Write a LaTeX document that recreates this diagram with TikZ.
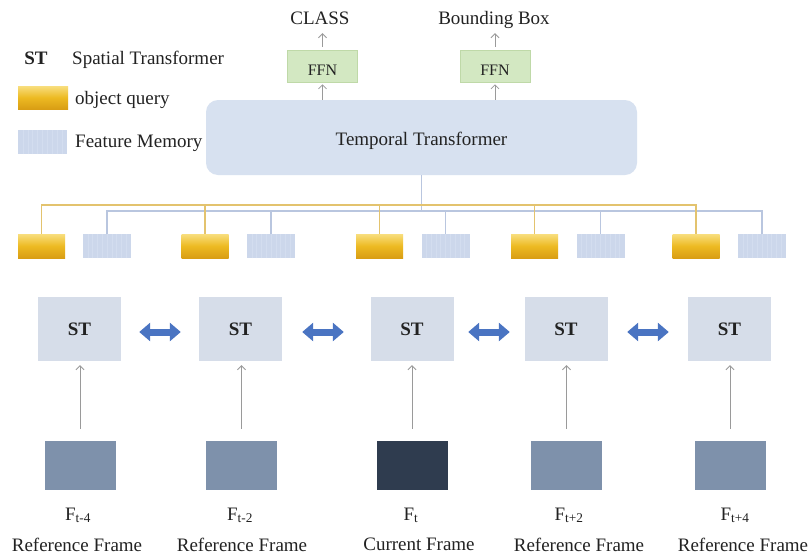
\documentclass[tikz,border=0pt]{standalone}
\usepackage{fontspec}
\setmainfont{Liberation Serif}
\usetikzlibrary{arrows.meta,calc}

\definecolor{ink}{HTML}{222222}
\definecolor{ttfill}{HTML}{D7E1F0}
\definecolor{stfill}{HTML}{D6DDE9}
\definecolor{memfill}{HTML}{CCD7EB}
\definecolor{memline}{HTML}{D3DDEF}
\definecolor{goldA}{HTML}{F8DE7E}
\definecolor{goldB}{HTML}{EDBA22}
\definecolor{goldC}{HTML}{D99E14}
\definecolor{goldline}{HTML}{E3C36E}
\definecolor{blueline}{HTML}{B9C6DF}
\definecolor{ffnfill}{HTML}{D3E8C2}
\definecolor{ffnedge}{HTML}{BFD9A8}
\definecolor{dblblue}{HTML}{4A74C2}
\definecolor{refframe}{HTML}{7E91AB}
\definecolor{curframe}{HTML}{2F3C4F}
\definecolor{arrgray}{HTML}{9A9A9A}

\tikzset{
  txt/.style={inner sep=0pt, text=ink, font=\fontsize{19}{22}\selectfont,
              text height=13pt, text depth=4pt},
  query/.style={minimum width=47pt, minimum height=24pt, inner sep=0pt,
                top color=goldA, bottom color=goldC, middle color=goldB},
  memory/.style={fill=memfill, minimum width=48pt, minimum height=24pt, inner sep=0pt,
    path picture={
      \foreach \k in {0.1,0.2,...,0.91}
        \draw[memline, line width=0.5pt]
          ($(path picture bounding box.south west)!\k!(path picture bounding box.south east)$) --
          ($(path picture bounding box.north west)!\k!(path picture bounding box.north east)$);
    }},
  stbox/.style={fill=stfill, minimum width=83pt, minimum height=64pt, inner sep=0pt,
                text=ink, font=\bfseries\fontsize{19}{22}\selectfont},
  ffnbox/.style={fill=ffnfill, draw=ffnedge, line width=0.6pt, minimum width=70pt,
                 minimum height=32pt, inner sep=0pt},
  framebox/.style={minimum width=71pt, minimum height=49pt, inner sep=0pt},
  uparr/.style={draw=arrgray, line width=0.8pt, -{Straight Barb[length=4pt,width=8pt]}},
  dblarr/.style={draw=dblblue, line width=7pt,
                 {Triangle[length=11pt,width=18pt]}-{Triangle[length=11pt,width=18pt]}},
  gbus/.style={draw=goldline, line width=1.8pt},
  bbus/.style={draw=blueline, line width=1.8pt},
}

\begin{document}
\begin{tikzpicture}[x=1pt,y=-1pt]
\useasboundingbox[fill=white] (0,0) rectangle (812,555);

% legend
\node[txt, anchor=base, font=\bfseries\fontsize{19}{22}\selectfont] (lgst) at (36,64) {ST};
\node[txt, anchor=base west] (lgstd) at (72,64) {Spatial Transformer};
\node[query, minimum width=50pt, minimum height=23pt] (lgq) at (43,97.5) {};
\node[txt, anchor=base west] (lgqd) at (75,104) {object query};
\node[memory, minimum width=49pt] (lgm) at (42.5,142) {};
\node[txt, anchor=base west] (lgmd) at (75,147) {Feature Memory};

% temporal transformer and heads
\node[fill=ttfill, rounded corners=12pt, minimum width=431pt, minimum height=75pt,
      inner sep=0pt] (tt) at (421.5,137.5) {};
\node[txt, anchor=base] (ttl) at (421.5,145) {Temporal Transformer};

\node[ffnbox] (ffn1) at (322.5,66) {};
\node[ffnbox] (ffn2) at (495,66) {};
\node[txt, anchor=base, font=\fontsize{16}{18}\selectfont] (ffn1l) at (322.5,75) {FFN};
\node[txt, anchor=base, font=\fontsize{16}{18}\selectfont] (ffn2l) at (495,75) {FFN};

\node[txt, anchor=base] (cls) at (320,24) {CLASS};
\node[txt, anchor=base] (bbox) at (494,24) {Bounding Box};

\draw[uparr, shorten >=2pt] (ffn1.south |- tt.north) -- (ffn1.south);
\draw[uparr, shorten >=2pt] (ffn2.south |- tt.north) -- (ffn2.south);
\draw[uparr, shorten <=3pt, shorten >=5pt] (ffn1.north) -- (ffn1.north |- cls.south);
\draw[uparr, shorten <=3pt, shorten >=5pt] (ffn2.north) -- (ffn2.north |- bbox.south);

% object queries and feature memories
\foreach \n/\x in {1/41.5, 2/205, 3/379.5, 4/534.5, 5/696}
  \node[query] (q\n) at (\x,246) {};
\foreach \n/\x in {1/107, 2/271, 3/445.5, 4/600.5, 5/762}
  \node[memory] (m\n) at (\x,246) {};

\coordinate (gb) at (0,205);
\coordinate (bb) at (0,211);

% memory bus
\draw[bbus] (tt.south) -- (tt.south |- bb);
\draw[bbus] (m1.north) -- (m1.north |- bb) -- (m5.north |- bb) -- (m5.north);
\foreach \n in {2,3,4}
  \draw[bbus] (m\n.north) -- (m\n.north |- bb);

% query bus
\draw[gbus] (q1.north) -- (q1.north |- gb) -- (q5.north |- gb) -- (q5.north);
\foreach \n in {2,3,4}
  \draw[gbus] (q\n.north) -- (q\n.north |- gb);

% spatial transformers
\foreach \n/\x in {1/79.5, 2/240.5, 3/412, 4/566, 5/729.5}
  \node[stbox] (st\n) at (\x,329) {ST};

% exchange between neighbouring spatial transformers
\foreach \a/\b/\s/\e in {1/2/18/18, 2/3/20/26.5, 3/4/14.5/14.5, 4/5/19.5/19}
  \draw[dblarr, shorten <=\s pt, shorten >=\e pt] (st\a.east |- 0,332) -- (st\b.west |- 0,332);

% frames
\node[framebox, fill=refframe] (fr1) at (80,465.5) {};
\node[framebox, fill=refframe] (fr2) at (241.5,465.5) {};
\node[framebox, fill=curframe] (fr3) at (412,465.5) {};
\node[framebox, fill=refframe] (fr4) at (566.5,465.5) {};
\node[framebox, fill=refframe] (fr5) at (730,465.5) {};

\foreach \n in {1,...,5}
  \draw[uparr, shorten <=12pt, shorten >=4pt] (fr\n.north) -- (fr\n.north |- st\n.south);

\node[txt, anchor=base] (f1) at (78,520) {F\textsubscript{t-4}};
\node[txt, anchor=base] (f2) at (240,520) {F\textsubscript{t-2}};
\node[txt, anchor=base] (f3) at (411,520) {F\textsubscript{t}};
\node[txt, anchor=base] (f4) at (569,520) {F\textsubscript{t+2}};
\node[txt, anchor=base] (f5) at (735,520) {F\textsubscript{t+4}};

\node[txt, anchor=base] (d1) at (77,551.5) {Reference Frame};
\node[txt, anchor=base] (d2) at (242,551.5) {Reference Frame};
\node[txt, anchor=base] (d3) at (419,550.5) {Current Frame};
\node[txt, anchor=base] (d4) at (579,551.5) {Reference Frame};
\node[txt, anchor=base] (d5) at (743,551.5) {Reference Frame};
\end{tikzpicture}
\end{document}
